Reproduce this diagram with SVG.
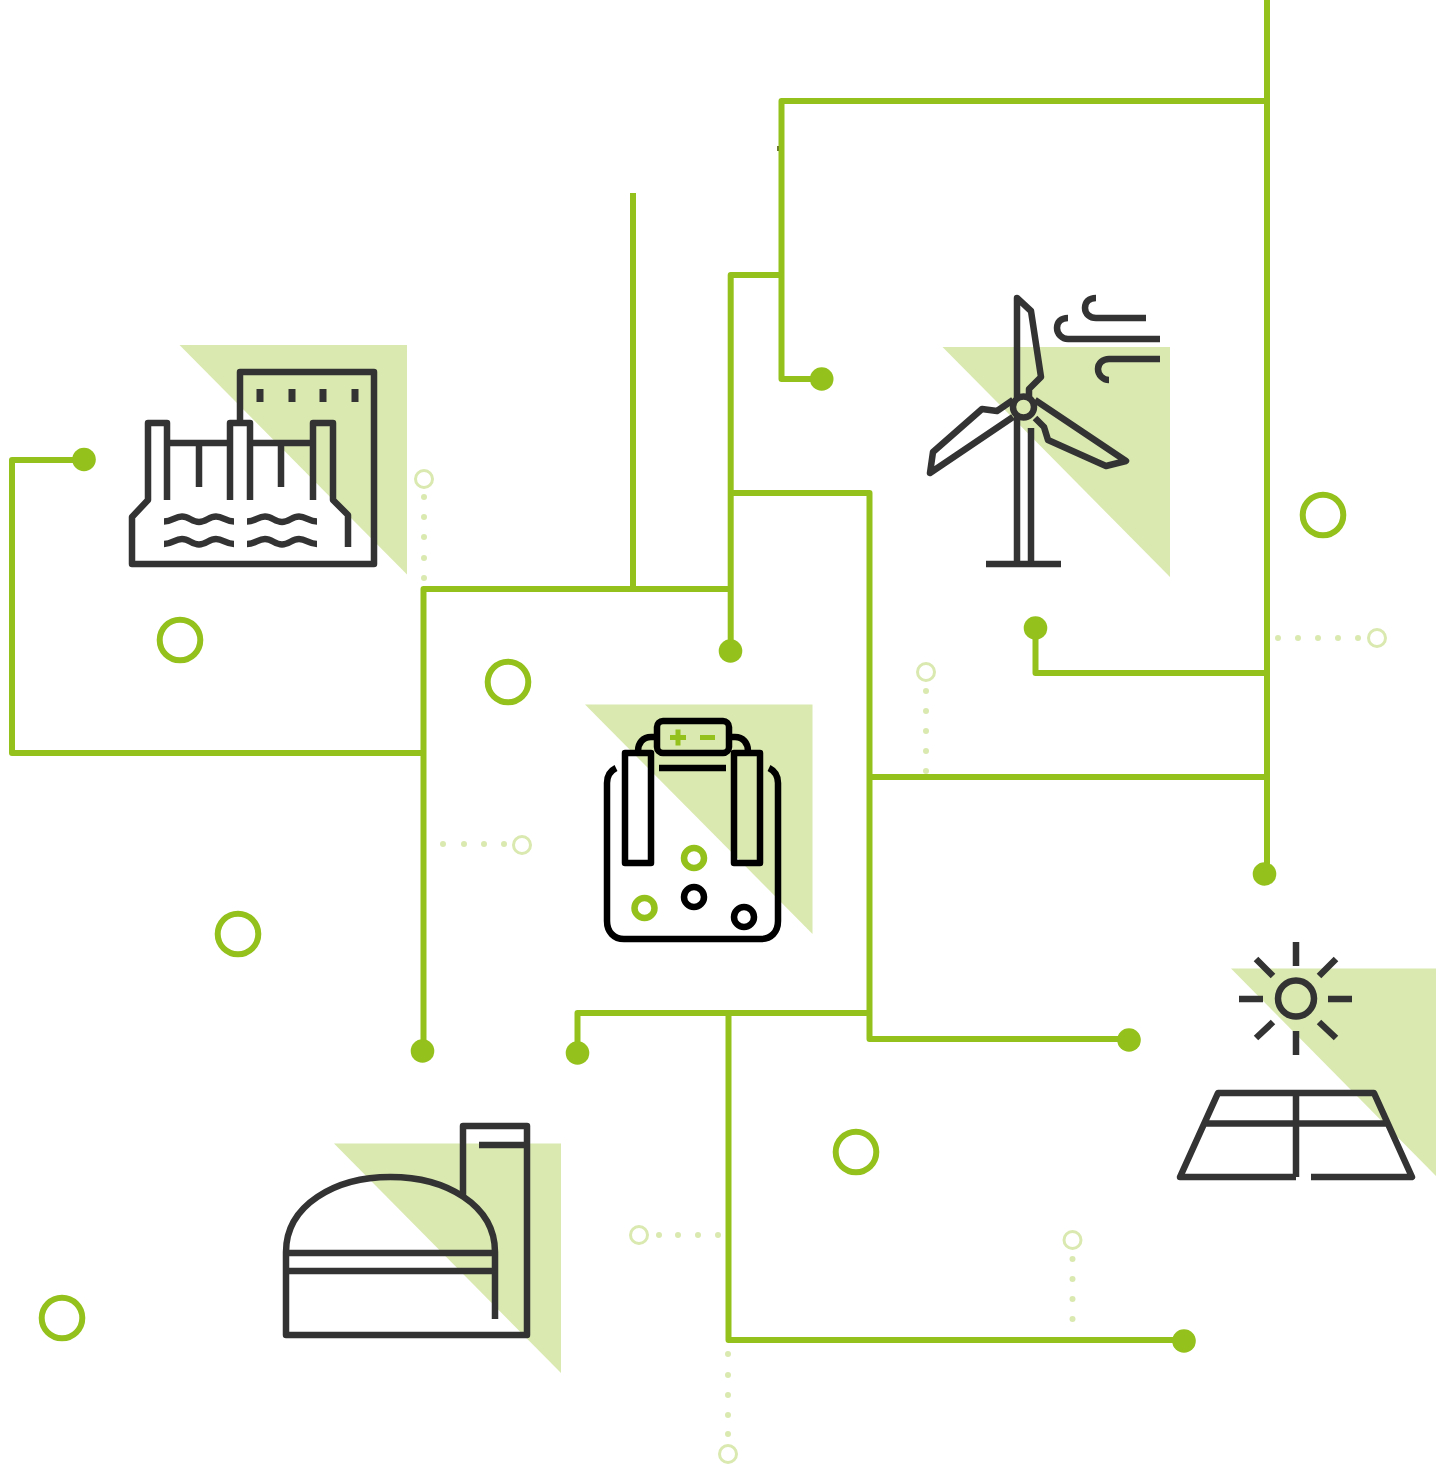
<svg xmlns="http://www.w3.org/2000/svg" width="1436" height="1464" viewBox="0 0 1436 1464">
<style>
.tri{fill:#dae9b0;stroke:none}
.ic{fill:none;stroke:#333;stroke-width:6.500;stroke-linejoin:round;stroke-linecap:butt}
.bk{fill:none;stroke:#000;stroke-width:6.500;stroke-linejoin:round}
.gr{fill:none;stroke:#94c11c;stroke-width:6.500}
.wire{fill:none;stroke:#94c11c;stroke-width:6;stroke-linejoin:round}
.dot{fill:#94c11c}
.ring{fill:none;stroke:#94c11c;stroke-width:6}
.pr{fill:none;stroke:#dae9b0;stroke-width:3}
.pd{fill:#dae9b0}
</style>
<rect width="1436" height="1464" fill="#fff"/>
<g id="decor-dots">
<circle class="pr" cx="424" cy="479" r="8.500"/><circle class="pd" cx="424" cy="497" r="3"/><circle class="pd" cx="424" cy="517" r="3"/><circle class="pd" cx="424" cy="537" r="3"/><circle class="pd" cx="424" cy="558" r="3"/><circle class="pd" cx="424" cy="578" r="3"/>
<circle class="pr" cx="926" cy="672" r="8.500"/><circle class="pd" cx="926" cy="691" r="3"/><circle class="pd" cx="926" cy="711" r="3"/><circle class="pd" cx="926" cy="731" r="3"/><circle class="pd" cx="926" cy="751" r="3"/><circle class="pd" cx="926" cy="771" r="3"/>
<circle class="pr" cx="1377" cy="638" r="8.500"/><circle class="pd" cx="1358" cy="638" r="3"/><circle class="pd" cx="1338" cy="638" r="3"/><circle class="pd" cx="1318" cy="638" r="3"/><circle class="pd" cx="1298" cy="638" r="3"/><circle class="pd" cx="1278" cy="638" r="3"/>
<circle class="pr" cx="522" cy="845" r="8.500"/><circle class="pd" cx="504" cy="844" r="3"/><circle class="pd" cx="484" cy="844" r="3"/><circle class="pd" cx="464" cy="844" r="3"/><circle class="pd" cx="443" cy="844" r="3"/>
<circle class="pr" cx="639" cy="1235" r="8.500"/><circle class="pd" cx="659" cy="1235" r="3"/><circle class="pd" cx="678" cy="1235" r="3"/><circle class="pd" cx="698" cy="1235" r="3"/><circle class="pd" cx="718" cy="1235" r="3"/>
<circle class="pr" cx="1072.500" cy="1240" r="8.500"/><circle class="pd" cx="1072.500" cy="1259" r="3"/><circle class="pd" cx="1072.500" cy="1279" r="3"/><circle class="pd" cx="1072.500" cy="1299" r="3"/><circle class="pd" cx="1072.500" cy="1319" r="3"/>
<circle class="pr" cx="728" cy="1454" r="8.500"/><circle class="pd" cx="728" cy="1434" r="3"/><circle class="pd" cx="728" cy="1415" r="3"/><circle class="pd" cx="728" cy="1395" r="3"/><circle class="pd" cx="728" cy="1375" r="3"/><circle class="pd" cx="728" cy="1354" r="3"/>
</g>
<g id="hydro">
<polygon class="tri" points="179.500,345 407,345 407,574.500"/>
<path class="ic" d="M240 423V372H374V564H132V517L148 500V423H167V500M230 500V423H250V500M313 500V423H333V500L348 515V547M167 443H230M250 443H313M199 443V487M281 443V487"/>
<path class="ic" d="M260 389V402M292 389V402M323 389V402M355 389V402" style="stroke-width:7"/>
<path class="ic" d="M164 521.500C172 521.500 175 516.500 182 516.500C189 516.500 192 522 199 522C206 522 209 516.500 216 516.500C223 516.500 226 521.500 234 521.500M247 521.500C255 521.500 258 516.500 265 516.500C272 516.500 275 522 282 522C289 522 292 516.500 299 516.500C306 516.500 309 521.500 317 521.500M164 544C172 544 175 539 182 539C189 539 192 544.500 199 544.500C206 544.500 209 539 216 539C223 539 226 544 234 544M247 544C255 544 258 539 265 539C272 539 275 544.500 282 544.500C289 544.500 292 539 299 539C306 539 309 544 317 544"/>
</g>
<g id="wind">
<polygon class="tri" points="942.500,347 1170,347 1170,577"/>
<path class="ic" d="M986 564H1061M1017 417V564M1031 428V564M1017 397V298L1031 311L1041 377L1029 389V397M1013 400L997 411L982 409L933 452L930 473L1013 417M1035 400L1126 461L1106 466L1048 440L1044 427L1035 418"/>
<circle class="ic" cx="1023.500" cy="407" r="10.500"/>
<path class="ic" d="M1096 298C1089 298 1085 302 1085 308C1085 314 1090 318 1096 318H1146M1068 318C1061 318 1057 322 1057 328C1057 334 1062 339 1068 339H1160M1160 359H1109C1103 359 1098 363 1098 369C1098 375 1103 380 1109 380"/>
</g>
<g id="battery">
<polygon class="tri" points="585,704.500 812.500,704.500 812.500,934"/>
<path class="bk" d="M616 768C610 771 607 776 607 783V921C607 932 614 939 624 939H761C771 939 778 932 778 921V783C778 776 775 771 769 768M625 753H651V863H625ZM734 753H760V863H734ZM638 753V751C638 743 643 737 651 737H657M729 737H735C743 737 748 743 748 751V753M659 768H726"/>
<rect class="bk" x="657" y="721" width="72" height="32" rx="6"/>
<path class="gr" style="stroke-width:5" d="M670 737.500H686M678 729.500V745.500M700 737.500H715"/>
<circle class="gr" cx="694" cy="858" r="10"/><circle class="gr" cx="644.500" cy="908" r="10"/>
<circle class="bk" cx="694" cy="897" r="10"/><circle class="bk" cx="744" cy="917" r="10"/>
</g>
<g id="solar">
<polygon class="tri" points="1231,968.500 1436,968.500 1436,1176"/>
<circle class="ic" cx="1296" cy="998.500" r="18"/>
<path class="ic" d="M1296 942V966M1296 1031V1055M1239 999H1263M1328 999H1352M1256 959L1273 976M1336 959L1319 976M1256 1038L1273 1022M1336 1038L1319 1022M1296 1177H1180L1218 1093H1374L1412 1177H1311M1205 1123.500H1387M1296 1093V1177"/>
</g>
<g id="biogas">
<polygon class="tri" points="334,1143.500 561,1143.500 561,1373"/>
<path class="ic" d="M463 1197V1126H527V1335H286V1252C286 1205 335 1177 390.500 1177C446 1177 495 1205 495 1252V1319M286 1253H495M286 1271H495M479 1145H527"/>
</g>
<g id="connectors">
<path class="wire" d="M1267 0V873M1267 101H781.500V379H822M781.500 275H730.700V651M633 193V589M423.500 1051V589H728M84 460H12V753H423.500M730.700 493H869.500V1039H1129M869.500 777H1267M1035.500 628V673H1267M577.500 1053V1013H869.500M728.500 1013V1340H1184"/>
<rect x="777" y="146" width="2" height="5" fill="#6d7f2a"/>
<circle class="dot" cx="1264.500" cy="874" r="11.800"/><circle class="dot" cx="821.700" cy="379" r="11.800"/><circle class="dot" cx="730.500" cy="651" r="11.800"/><circle class="dot" cx="422.500" cy="1051" r="11.800"/><circle class="dot" cx="84" cy="459.500" r="11.800"/><circle class="dot" cx="1129" cy="1040" r="11.800"/><circle class="dot" cx="1035.500" cy="628" r="11.800"/><circle class="dot" cx="577.500" cy="1053" r="11.800"/><circle class="dot" cx="1184" cy="1341" r="11.800"/>
</g>
<g id="rings">
<circle class="ring" cx="180" cy="640" r="20.300"/><circle class="ring" cx="238" cy="934" r="20.300"/><circle class="ring" cx="62" cy="1318" r="20.300"/><circle class="ring" cx="508" cy="682" r="20.300"/><circle class="ring" cx="856" cy="1152" r="20.300"/><circle class="ring" cx="1323" cy="515" r="20.300"/>
</g>
</svg>
